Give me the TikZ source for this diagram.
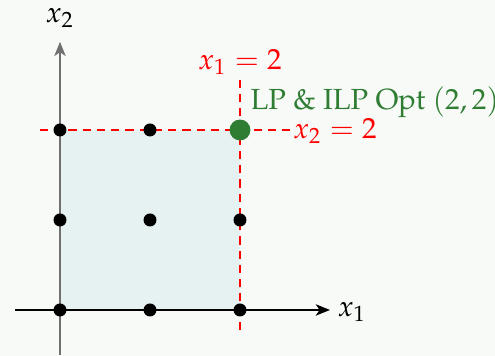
\documentclass[tikz,border=0pt]{standalone}
\usepackage[T1]{fontenc}
\usepackage{mathpazo}
\usetikzlibrary{arrows.meta}
\definecolor{bgc}{HTML}{F8FAF8}
\definecolor{regionc}{HTML}{E6F1F2}
\definecolor{optc}{HTML}{2E7D32}
\definecolor{axisg}{HTML}{707070}
\tikzset{
  pt/.style={circle,fill=black,inner sep=0pt,minimum size=4.1pt},
  optpt/.style={circle,fill=optc,inner sep=0pt,minimum size=6.6pt},
  cons/.style={red,line width=0.8pt,dash pattern=on 2.6pt off 1.9pt},
  axis/.style={line width=0.5pt,-{Stealth[length=4.5pt,width=3.6pt,inset=1.2pt]}},
  lbl/.style={font=\fontsize{9.2}{11}\selectfont},
  redlbl/.style={lbl,red},
}
\begin{document}
\begin{tikzpicture}
\path[fill=bgc] (-0.6667,-0.5111) rectangle (4.8333,3.4444);
\useasboundingbox (-0.6667,-0.5111) rectangle (4.8333,3.4444);
\fill[regionc] (0,0) rectangle (2,2);
% axes
\coordinate (xs) at (-0.5,0);
\coordinate (xe) at (3.0,0);
\coordinate (ys) at (0,-0.5);
\coordinate (ye) at (0,2.98);
\draw[axis,black] (xs) -- (xe);
\draw[axis,axisg] (ys) -- (ye);
\node[lbl] (xl) at (3.244,-0.02) {$x_1$};
\node[lbl] (yl) at (0,3.244) {$x_2$};
% constraints
\coordinate (vs) at (2,-0.222);
\coordinate (ve) at (2,2.556);
\coordinate (hs) at (-0.222,2);
\coordinate (he) at (2.556,2);
\draw[cons] (vs) -- (ve);
\draw[cons] (hs) -- (he);
\node[redlbl] (c1) at (2,2.756) {$x_1 = 2$};
\node[redlbl] (c2) at (3.056,1.99) {$x_2 = 2$};
% points
\node[pt] (p00) at (0,0) {};
\node[pt] (p10) at (1,0) {};
\node[pt] (p20) at (2,0) {};
\node[pt] (p01) at (0,1) {};
\node[pt] (p11) at (1,1) {};
\node[pt] (p21) at (2,1) {};
\node[pt] (p02) at (0,2) {};
\node[pt] (p12) at (1,2) {};
\node[optpt] (opt) at (2,2) {};
\node[lbl,optc,anchor=west,inner sep=0pt] (optl) at (2.111,2.31) {LP \& ILP Opt $(2,2)$};
\end{tikzpicture}
\end{document}
